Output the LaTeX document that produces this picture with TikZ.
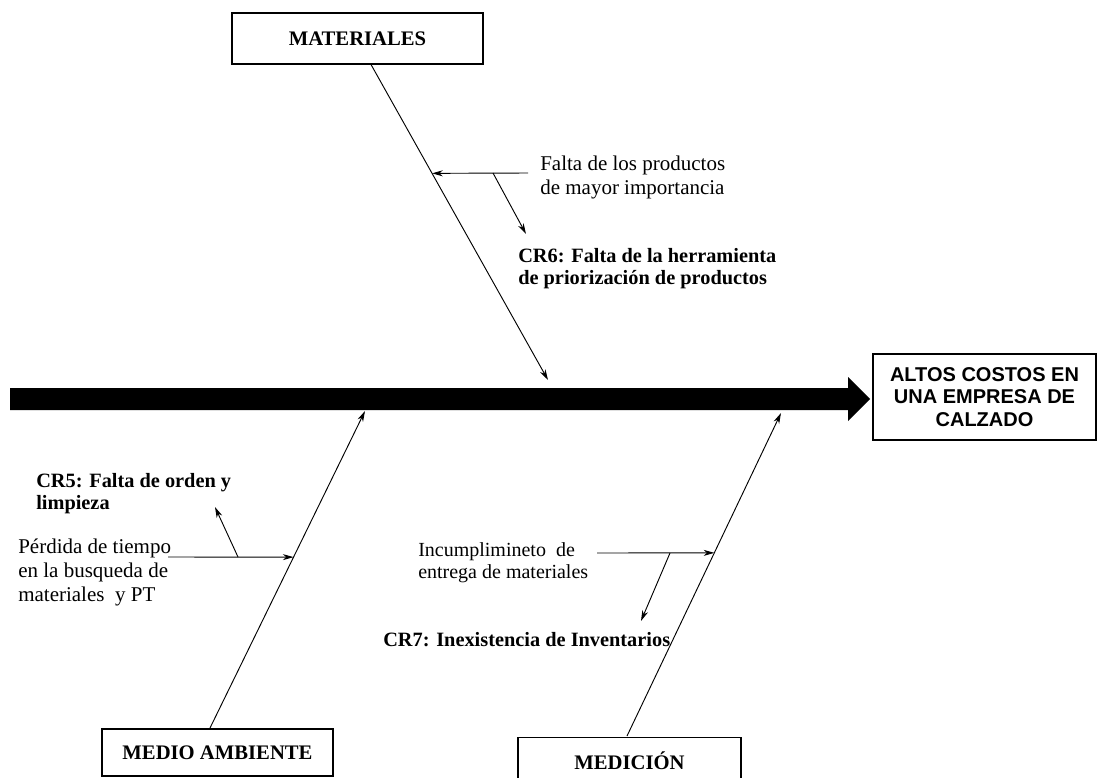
\documentclass[tikz,border=0pt]{standalone}
\usepackage{fontspec}
\setmainfont{Liberation Serif}
\newfontfamily\arialfont{Liberation Sans}
\usetikzlibrary{arrows.meta,calc}

\begin{document}
\begin{tikzpicture}[x=0.75pt,y=-0.75pt,
  catbox/.style={draw, line width=1pt, inner sep=0pt, font=\fontsize{15.5}{18}\selectfont\bfseries},
  effectbox/.style={draw, line width=1pt, inner sep=0pt, align=center,
    font=\arialfont\fontsize{15}{17}\selectfont\bfseries},
  bone/.style={line width=0.7pt, -{Stealth[length=8pt,width=4.5pt,inset=2.5pt]}},
  causetxt/.style={inner sep=0pt, anchor=west, align=left, font=\fontsize{15.75}{18}\selectfont},
  roottxt/.style={inner sep=0pt, anchor=west, align=left, font=\fontsize{15.25}{16.5}\selectfont\bfseries},
]
\path[fill=white, use as bounding box] (0,0) rectangle (1097,778);

% category boxes and effect
\node[catbox, minimum width=188.25pt, minimum height=38.25pt] (mat) at (357.5,38.5) {MATERIALES};
\node[catbox, minimum width=173.25pt, minimum height=35.25pt] (med) at (217.5,752.5) {MEDIO AMBIENTE};
\node[catbox, minimum width=167.25pt, minimum height=34.5pt, anchor=north] (mcn) at (629.5,737) {MEDICIÓN};
\node[effectbox, minimum width=167.25pt, minimum height=64.5pt] (eff) at (984.5,397)
  {ALTOS COSTOS EN\\UNA EMPRESA DE\\CALZADO};

% main spine (thick block arrow)
\coordinate (s0) at (10,399);
\coordinate (sh) at (848,399);
\coordinate (st) at (870,399);
\fill ($(s0)+(0,-11)$) -- ($(sh)+(0,-11)$) -- ($(sh)+(0,-22)$) -- (st)
  -- ($(sh)+(0,22)$) -- ($(sh)+(0,11)$) -- ($(s0)+(0,11)$) -- cycle;

% MATERIALES bone
\coordinate (m1) at (371,64.5);
\coordinate (m2) at (548,380);
\draw[bone] (m1) -- (m2);
\coordinate (fa0) at (528,173);
\draw[bone] (fa0) -- ($(m1)!0.345!(m2)$);
\coordinate (fb0) at (493,173);
\coordinate (fb1) at (526,234);
\draw[bone] (fb0) -- (fb1);

% MEDIO AMBIENTE bone
\coordinate (a1) at (210,728);
\coordinate (a2) at (365,411);
\draw[bone] (a1) -- (a2);
\coordinate (pa0) at (168,557);
\draw[bone] (pa0) -- ($(a1)!0.539!(a2)$);
\coordinate (pb0) at (238,557);
\coordinate (pb1) at (215,507);
\draw[bone] (pb0) -- (pb1);

% MEDICION bone
\coordinate (b1) at (627,736);
\coordinate (b2) at (781,413);
\draw[bone] (b1) -- (b2);
\coordinate (ia0) at (597,553);
\draw[bone] (ia0) -- ($(b1)!0.567!(b2)$);
\coordinate (ib0) at (670,553);
\coordinate (ib1) at (641,621);
\draw[bone] (ib0) -- (ib1);

% causes and root causes
\node[causetxt] (t1) at (540,177) {Falta de los productos\\de mayor importancia};
\node[roottxt] (r6) at (518,269) {CR6: Falta de la herramienta\\de priorización de productos};
\node[roottxt] (r5) at (36,493.5) {CR5: Falta de orden y\\limpieza};
\node[causetxt] (t2) at (18,572) {Pérdida de tiempo\\en la busqueda de\\materiales\ \ y PT};
\node[causetxt, font=\fontsize{15}{16.5}\selectfont] (t3) at (418,562.5)
  {Incumplimineto\ \ de\\entrega de materiales};
\node[roottxt] (r7) at (383,640) {CR7: Inexistencia de Inventarios};
\end{tikzpicture}
\end{document}
